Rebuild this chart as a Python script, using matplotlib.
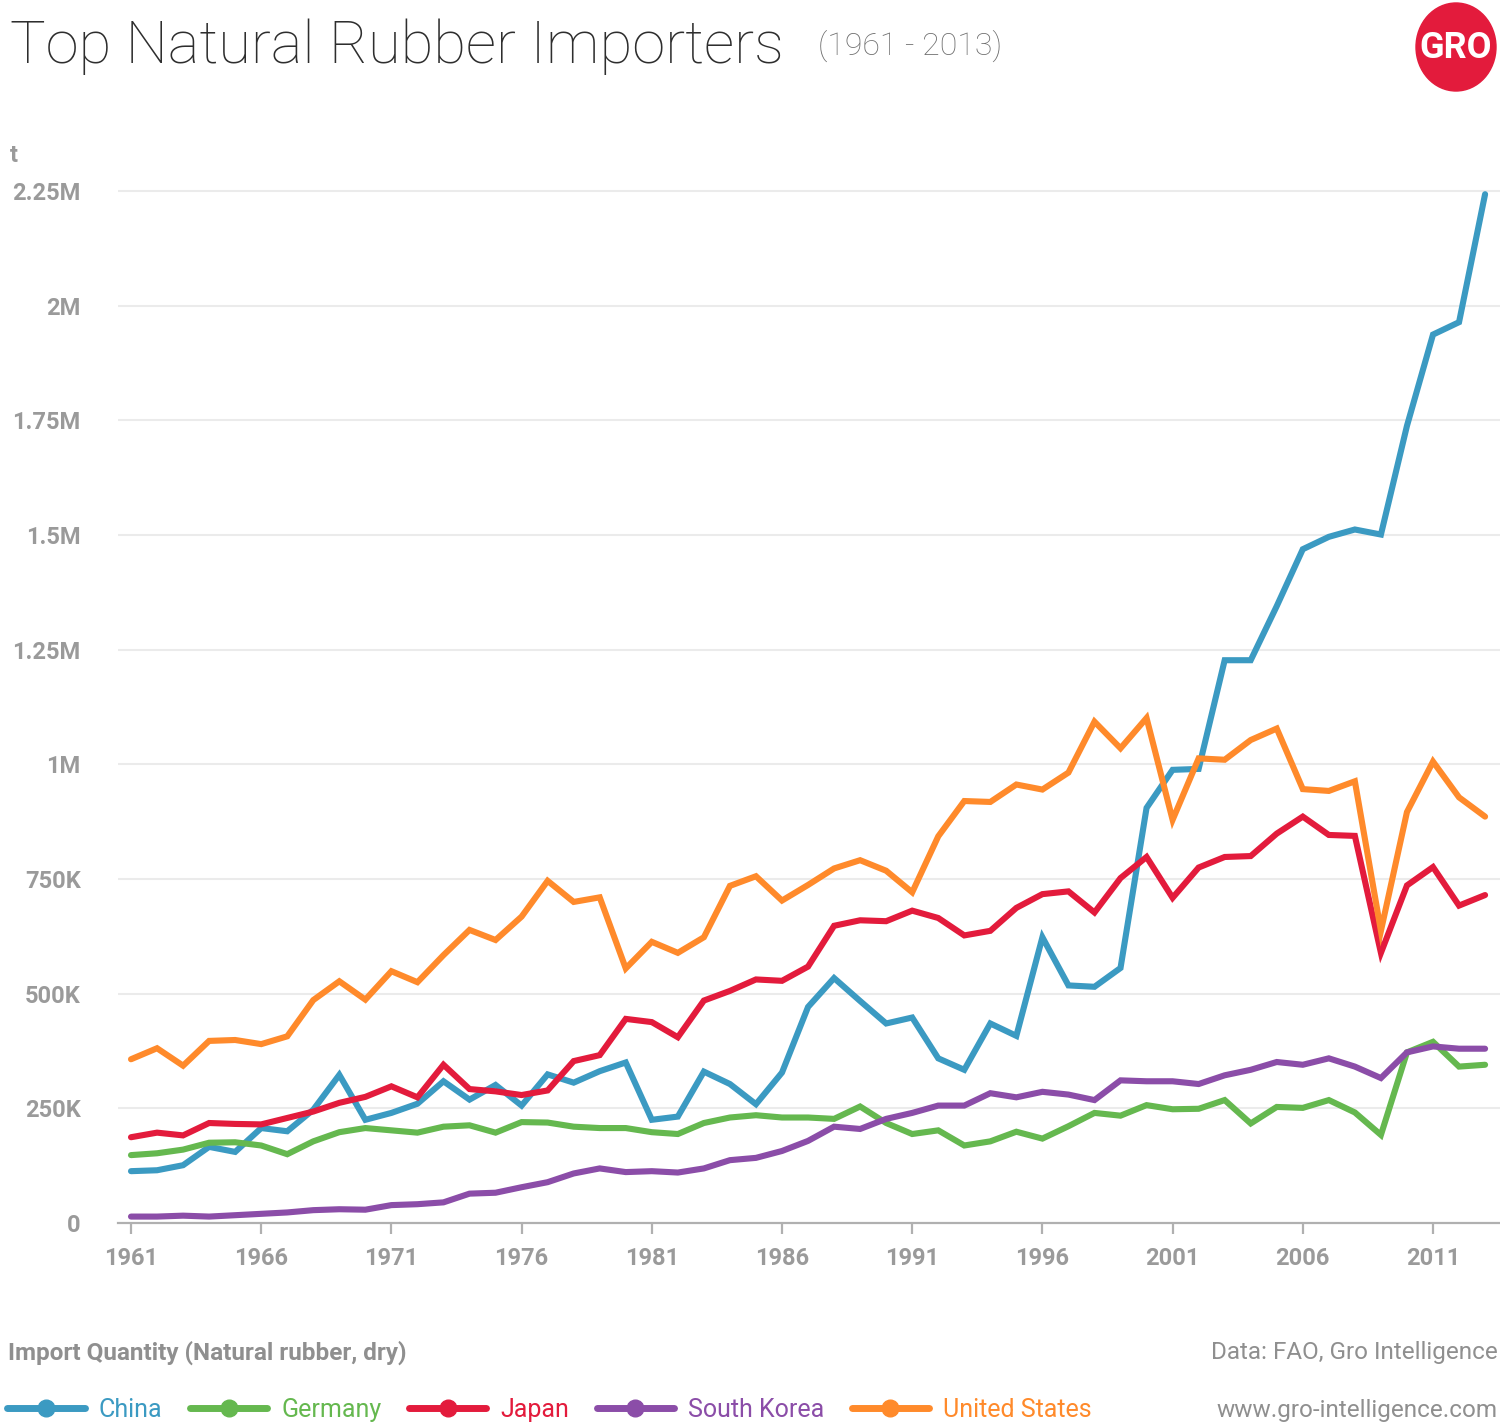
import matplotlib
matplotlib.use("Agg")
import matplotlib.pyplot as plt
from matplotlib.patches import Ellipse
from matplotlib.lines import Line2D
import numpy as np

plt.rcParams['font.family'] = ['Roboto', 'DejaVu Sans']

years = list(range(1961, 2014))

china = [113, 115, 126, 166, 155, 207, 200, 247, 323, 225, 240, 260, 309, 269, 301,
         256, 324, 306, 331, 350, 225, 232, 330, 303, 259, 328, 471, 534, 484, 435,
         448, 359, 334, 435, 408, 623, 518, 515, 556, 905, 988, 990, 1227, 1227, 1345,
         1469, 1496, 1512, 1501, 1738, 1937, 1964, 2243]
germany = [148, 152, 160, 175, 176, 169, 150, 178, 198, 207, 202, 197, 210, 213, 197,
           220, 219, 210, 207, 207, 198, 194, 218, 230, 235, 230, 230, 227, 254, 218,
           194, 202, 169, 178, 199, 184, 211, 240, 234, 257, 248, 249, 268, 217, 253,
           251, 268, 241, 192, 372, 395, 341, 345]
japan = [187, 197, 191, 218, 216, 215, 229, 243, 262, 275, 298, 274, 345, 292, 287,
         279, 289, 353, 366, 445, 438, 405, 485, 506, 531, 528, 559, 648, 660, 658,
         681, 665, 627, 637, 687, 717, 723, 677, 752, 798, 709, 775, 798, 800, 849,
         886, 846, 844, 589, 736, 776, 692, 715]
south_korea = [14, 14, 16, 14, 17, 20, 23, 28, 30, 29, 39, 41, 45, 64, 66,
               78, 89, 108, 119, 111, 113, 110, 119, 137, 142, 157, 179, 210, 205, 227,
               240, 256, 256, 283, 274, 286, 280, 268, 311, 309, 309, 303, 322, 334, 351,
               345, 359, 341, 316, 372, 385, 380, 380]
united_states = [357, 381, 343, 397, 399, 390, 407, 486, 527, 487, 549, 525, 584, 639, 617,
                 668, 746, 700, 710, 555, 613, 589, 623, 735, 756, 703, 737, 773, 791, 768,
                 721, 843, 920, 918, 956, 945, 982, 1093, 1035, 1101, 879, 1013, 1010, 1053, 1078,
                 946, 942, 963, 637, 896, 1006, 928, 886]

series_names = ["China", "Germany", "Japan", "South Korea", "United States"]
series_values = [china, germany, japan, south_korea, united_states]
colors = ["#3B9AC2", "#65B84F", "#E31B3C", "#8B4DA8", "#FF8A2B"]

ytick_values = [0, 250000, 500000, 750000, 1000000, 1250000, 1500000, 1750000, 2000000, 2250000]
ytick_labels = ["0", "250K", "500K", "750K", "1M", "1.25M", "1.5M", "1.75M", "2M", "2.25M"]
xtick_years = list(range(1961, 2012, 5))

W, H = 1500, 1426
fig = plt.figure(figsize=(W / 100, H / 100), dpi=100)
fig.patch.set_facecolor("white")

ax_left, ax_right = 118, 1500
ax_bottom_px, ax_top_px = 1223, 168
ax = fig.add_axes([ax_left / W, (H - ax_bottom_px) / H, (ax_right - ax_left) / W,
                   (ax_bottom_px - ax_top_px) / H])

x0 = 1961 - 13 / 26.04
x1 = 1961 + (1500 - 131) / 26.04
ax.set_xlim(x0, x1)
ymax = 2250000 * (ax_bottom_px - ax_top_px) / (1223 - 191)
ax.set_ylim(0, ymax)

for name, vals, c in zip(series_names, series_values, colors):
    ax.plot(years, np.array(vals) * 1000, color=c, lw=4.4, solid_joinstyle="miter",
            solid_capstyle="round", label=name, zorder=3, clip_on=False)

for yv in ytick_values[1:]:
    ax.axhline(yv, color="#ebebeb", lw=1.5, zorder=1)

ax.set_yticks(ytick_values)
ax.set_yticklabels(ytick_labels)
ax.set_xticks(xtick_years)
ax.set_xticklabels([str(y) for y in xtick_years])

for s in ["top", "right", "left"]:
    ax.spines[s].set_visible(False)
ax.spines["bottom"].set_color("#b0b0b0")
ax.spines["bottom"].set_linewidth(1.6)

tick_color = "#9a9a9a"
ax.tick_params(axis="y", length=0, pad=27, labelsize=17, labelcolor=tick_color)
ax.tick_params(axis="x", length=8, width=1.6, color="#b0b0b0", pad=9, labelsize=17,
               labelcolor=tick_color)
for lab in ax.get_xticklabels() + ax.get_yticklabels():
    lab.set_fontweight("bold")
ax.set_facecolor("none")

# unit label
fig.text(10 / W, 1 - 155 / H, "t", fontsize=17, color=tick_color, fontweight="bold",
         va="center", ha="left")

# Title
fig.text(10 / W, 1 - 47 / H, "Top Natural Rubber Importers", fontsize=43, color="#2e2e2e",
         fontweight="light", va="center", ha="left")
fig.text(818 / W, 1 - 46 / H, "(1961 - 2013)", fontsize=23, color="#6e6e6e",
         fontweight="light", va="center", ha="left")

# Logo
lax = fig.add_axes([1410 / W, 1 - 95 / H, 92 / W, 95 / H])
lax.set_xlim(0, 92)
lax.set_ylim(0, 95)
lax.axis("off")
lax.add_patch(Ellipse((46, 48), 80, 88, color="#E31B3C"))
lax.text(46, 47, "GRO", fontsize=26, color="white", fontweight="bold", ha="center",
         va="center", fontstretch="condensed")

# Footer
fig.text(8 / W, 1 - 1353 / H, "Import Quantity (Natural rubber, dry)", fontsize=17.5,
         color="#8f8f8f", fontweight="bold", va="center", ha="left")
fig.text(1498 / W, 1 - 1353 / H, "Data: FAO, Gro Intelligence", fontsize=17.5,
         color="#8f8f8f", va="center", ha="right")
fig.text(1498 / W, 1 - 1410 / H, "www.gro-intelligence.com", fontsize=17.5,
         color="#8f8f8f", va="center", ha="right")

leg_handles = []
for name, c in zip(series_names, colors):
    leg_handles.append(Line2D([0, 0.5, 1], [0, 0, 0], color=c, lw=5, marker="o",
                              markersize=12, markevery=[1], solid_capstyle="round"))
leg = fig.legend(leg_handles, series_names, loc="center left",
                 bbox_to_anchor=(0.0, 1 - 1410 / H), ncol=5, frameon=False,
                 fontsize=18, handlelength=3.1, handletextpad=0.55, columnspacing=1.1,
                 borderaxespad=0, borderpad=0.3)
for t, c in zip(leg.get_texts(), colors):
    t.set_color(c)

fig.savefig("out.png", dpi=100, facecolor="white")
